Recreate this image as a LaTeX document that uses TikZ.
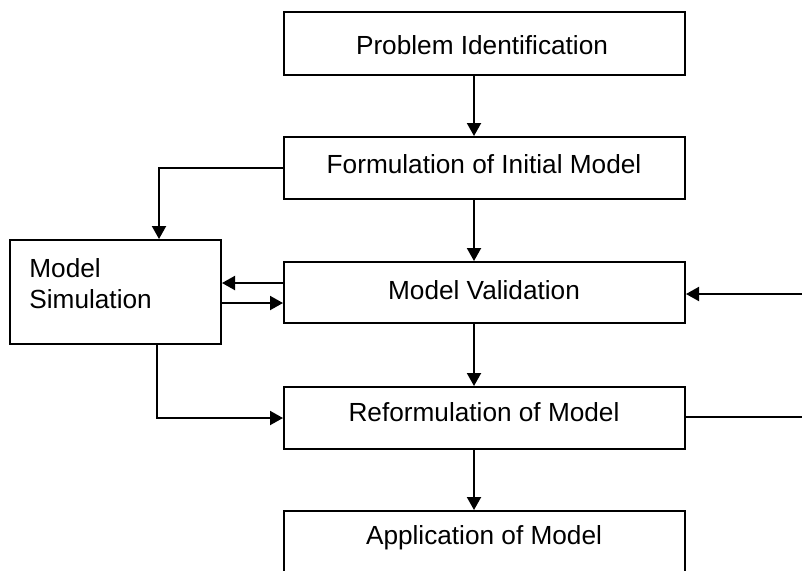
\documentclass[tikz,border=0pt]{standalone}
\usepackage{fontspec}
\setmainfont{Liberation Sans}
\usetikzlibrary{arrows.meta,calc}
\begin{document}
\begin{tikzpicture}[x=0.5pt,y=-0.5pt,
  box/.style={draw=black,line width=1pt,rectangle,inner sep=0pt,minimum width=200.5pt},
  txt/.style={inner sep=0pt,font=\fontsize{13.1}{15.5}\selectfont},
  conn/.style={draw=black,line width=1pt},
  arr/.style={conn,-{Triangle[length=6.5pt,width=7pt]}}]
\useasboundingbox (0,0) rectangle (802,570);
\clip (0,0) rectangle (802,570);
\fill[white] (0,0) rectangle (802,570);
% boxes
\node[box,minimum height=31.5pt] (P) at (484.5,43.5) {};
\node[box,minimum height=31pt] (F) at (484.5,168) {};
\node[box,minimum height=30.5pt] (V) at (484.5,292.5) {};
\node[box,minimum height=31pt] (R) at (484.5,418) {};
\node[box,minimum height=60pt] (A) at (484.5,571) {};
\node[box,minimum width=105.5pt,minimum height=52pt] (S) at (115.5,292) {};
% texts
\node[txt] (tP) at (482,45) {Problem Identification};
\node[txt] (tF) at (484,164) {Formulation of Initial Model};
\node[txt] (tV) at (484,290) {Model Validation};
\node[txt] (tR) at (484,412) {Reformulation of Model};
\node[txt] (tA) at (484,538) {Application of Model};
\node[txt,align=left,anchor=west] (tS) at (29,284) {Model\\Simulation};
% helper coordinates
\coordinate (ax) at (474,0);
\coordinate (sx) at (159,0);
\coordinate (sb) at (157,0);
\coordinate (rv) at (802,294);
\coordinate (rr) at (802,417);
% connectors
\draw[arr] (P.south -| ax) -- (F.north -| ax);
\draw[arr] (F.south -| ax) -- (V.north -| ax);
\draw[arr] (V.south -| ax) -- (R.north -| ax);
\draw[arr] (R.south -| ax) -- (A.north -| ax);
\draw[arr] (F.west) -| (S.north -| sx);
\draw[arr] ([yshift=4.75pt]V.west) -- ([yshift=4.75pt]V.west -| S.east);
\draw[arr] ([yshift=-5.25pt]V.west -| S.east) -- ([yshift=-5.25pt]V.west);
\draw[arr] (S.south -| sb) |- (R.west);
\draw[arr] (rv) -- (V.east |- rv);
\draw[conn] (R.east |- rr) -- (rr);
\end{tikzpicture}
\end{document}
